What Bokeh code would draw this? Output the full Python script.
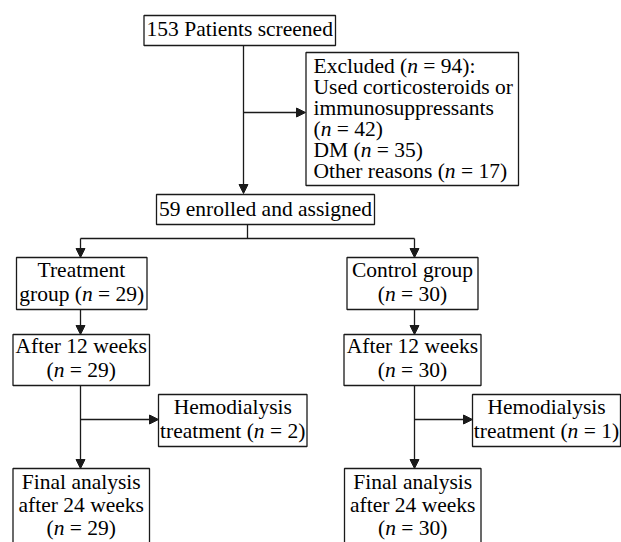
from bokeh.plotting import figure
from bokeh.models import Range1d, ColumnDataSource, Arrow, NormalHead
from bokeh.embed import file_html
from bokeh.resources import INLINE
from bokeh.core.properties import value

# ---------------- data (counts) ----------------
n_screened = 153
n_excluded = 94
n_steroids = 42
n_dm = 35
n_other = 17
n_enrolled = 59
group_names = ["Treatment", "Control group"]
n_group = [29, 30]
n_week12 = [29, 30]
n_hemo = [2, 1]
n_final = [29, 30]

# ---------------- text of each box ("*n*" = italic n) ----------------
box_texts = [
    [f"{n_screened} Patients screened"],
    [f"Excluded (*n* = {n_excluded}):", "Used corticosteroids or", "immunosuppressants",
     f"(*n* = {n_steroids})", f"DM (*n* = {n_dm})", f"Other reasons (*n* = {n_other})"],
    [f"{n_enrolled} enrolled and assigned"],
    [group_names[0], f"group (*n* = {n_group[0]})"],
    [group_names[1], f"(*n* = {n_group[1]})"],
    ["After 12 weeks", f"(*n* = {n_week12[0]})"],
    ["After 12 weeks", f"(*n* = {n_week12[1]})"],
    ["Hemodialysis", f"treatment (*n* = {n_hemo[0]})"],
    ["Hemodialysis", f"treatment (*n* = {n_hemo[1]})"],
    ["Final analysis", "after 24 weeks", f"(*n* = {n_final[0]})"],
    ["Final analysis", "after 24 weeks", f"(*n* = {n_final[1]})"],
]

# ---------------- layout (pixel positions) ----------------
# left, right, top, bottom, align, first baseline, line step
box_layout = [
    (143.5, 335, 15, 45, "center", 36, 21),
    (305.5, 518, 52, 185, "left", 73, 21),
    (156, 374, 194, 224, "center", 216, 24),
    (16, 146.5, 257, 309, "center", 277, 24),
    (346.5, 477.5, 257, 309, "center", 277, 24),
    (12.5, 149, 334, 385, "center", 353, 24),
    (343.5, 480.5, 334, 385, "center", 353, 24),
    (158, 306.5, 394, 446, "center", 414, 24),
    (472, 620, 394, 446, "center", 414, 24),
    (12.5, 149, 468, 570, "center", 489, 23),
    (344, 480.5, 468, 570, "center", 489, 23),
]
plain_lines = [((247, 224), (247, 238)), ((80, 238), (414, 238))]
arrows = [
    ((243, 45), (243, 193)), ((243, 112), (305, 112)),
    ((80, 238), (80, 257)), ((414, 238), (414, 257)),
    ((80, 309), (80, 334)), ((414, 309), (414, 334)),
    ((80, 385), (80, 468)), ((414, 385), (414, 468)),
    ((80, 419), (158, 419)), ((414, 419), (472, 419)),
]

FONT = "Liberation Serif"
FS = 21.5
W_PX, H_PX = 621, 542
BASE_ADJ = -8  # renderer places alphabetic baseline lower than requested

# Times / Liberation Serif advance widths (per 1000 em)
WID = {' ': 250, '(': 333, ')': 333, ':': 278, '=': 564,
       'A': 722, 'C': 667, 'D': 722, 'E': 611, 'F': 556, 'H': 722, 'M': 889,
       'O': 722, 'P': 556, 'T': 611, 'U': 722,
       'a': 444, 'b': 500, 'c': 444, 'd': 500, 'e': 444, 'f': 333, 'g': 500,
       'h': 500, 'i': 278, 'k': 500, 'l': 278, 'm': 778, 'n': 500, 'o': 500,
       'p': 500, 'r': 333, 's': 389, 't': 278, 'u': 500, 'w': 722, 'x': 500,
       'y': 500, 'z': 444}
for d in "0123456789":
    WID[d] = 500


def tw(s):
    return sum(WID.get(c, 500) for c in s) * FS / 1000.0


p = figure(width=W_PX, height=H_PX, output_backend="svg", toolbar_location=None,
           x_range=Range1d(0, W_PX), y_range=Range1d(H_PX, 0), min_border=0)
p.axis.visible = False
p.grid.visible = False
p.outline_line_color = None
p.background_fill_color = "white"

# boxes
p.quad(left=[b[0] for b in box_layout], right=[b[1] for b in box_layout],
       top=[b[2] for b in box_layout], bottom=[b[3] for b in box_layout],
       fill_color="white", line_color="#1a1a1a", line_width=1.3)

# connector lines
p.segment(x0=[l[0][0] for l in plain_lines], y0=[l[0][1] for l in plain_lines],
          x1=[l[1][0] for l in plain_lines], y1=[l[1][1] for l in plain_lines],
          line_color="#1a1a1a", line_width=1.3)
asrc = ColumnDataSource(dict(x0=[a[0][0] for a in arrows], y0=[a[0][1] for a in arrows],
                             x1=[a[1][0] for a in arrows], y1=[a[1][1] for a in arrows]))
p.add_layout(Arrow(source=asrc, x_start="x0", y_start="y0", x_end="x1", y_end="y1",
                   line_color="#1a1a1a", line_width=1.3,
                   end=NormalHead(size=9, line_color="#1a1a1a", fill_color="#1a1a1a",
                                  line_width=1)))

# texts (runs placed one after another; spaces advance x explicitly)
norm = dict(x=[], y=[], t=[])
ital = dict(x=[], y=[], t=[])
for lines, (l, r, top, bot, align, base, step) in zip(box_texts, box_layout):
    for i, line in enumerate(lines):
        runs = line.split("*")
        full = "".join(runs)
        width = tw(full)
        x = (l + r) / 2 - width / 2 if align == "center" else l + 7.5
        y = base + i * step + BASE_ADJ
        for k, run in enumerate(runs):
            if run == "":
                continue
            lead = len(run) - len(run.lstrip(" "))
            x += tw(" " * lead)
            core = run.lstrip(" ")
            if core:
                tgt = ital if k % 2 == 1 else norm
                tgt["x"].append(x)
                tgt["y"].append(y)
                tgt["t"].append(core)
            x += tw(core)

for src, style in ((norm, "normal"), (ital, "italic")):
    p.text(x="x", y="y", text="t", source=ColumnDataSource(src),
           text_font=value(FONT), text_font_size=f"{FS}px", text_font_style=style,
           text_align="left", text_baseline="alphabetic", text_color="black")

open("out.html", "w").write(file_html(p, INLINE))
